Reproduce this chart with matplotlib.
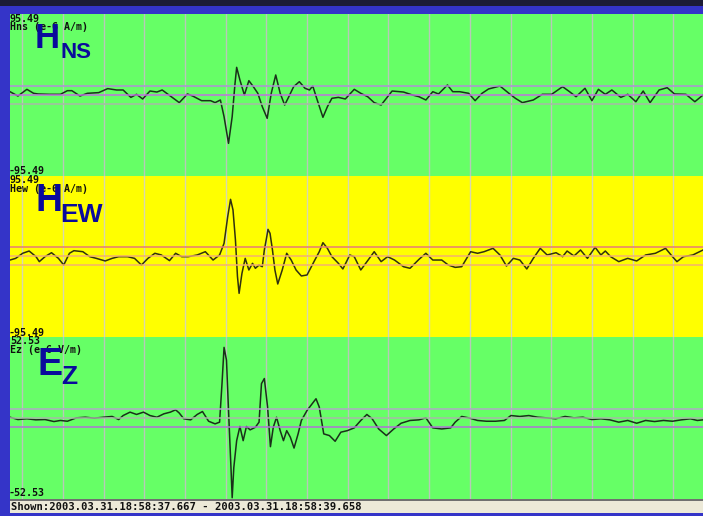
import matplotlib

matplotlib.use('Agg')

from matplotlib import pyplot as plt
import numpy as np
from matplotlib.patches import Rectangle

W, H = 703, 516

# time axis: ms after 2003.03.31 18:58:37.667 (window is cut at the right edge)
t_view = 1703
grid_start, grid_step = 30, 100

# Hns (e-6 A/m)
t_hns = [0, 19.5, 41.5, 58, 69, 97, 124, 141, 152, 172, 190, 218, 240, 262, 278, 297, 311, 326,
         344, 361, 374, 394, 416, 436, 449, 471, 493, 504, 517, 526, 537, 546, 553, 557, 565, 576,
         587, 598, 609, 620, 632, 642, 653, 664, 675, 686, 697, 711, 725, 736, 744, 755, 769, 780,
         791, 807, 824, 846, 862, 879, 895, 912, 923, 939, 967, 989, 1005, 1022, 1039, 1053, 1075,
         1088, 1105, 1127, 1143, 1160, 1176, 1204, 1226, 1242, 1259, 1286, 1308, 1331, 1358, 1375,
         1391, 1413, 1430, 1446, 1463, 1479, 1501, 1518, 1538, 1556, 1573, 1595, 1615, 1633, 1661,
         1683, 1703]
v_hns = [3.9, -1.2, 6.7, 2.0, 1.2, 0.8, 0.8, 5.1, 5.1, -1.2, 2.0, 2.8, 7.5, 5.9, 5.9, -2.8, 0.8, -4.7,
         4.7, 3.5, 5.9, -1.2, -9.0, 1.2, -1.2, -6.7, -6.7, -9.0, -5.9, -25.5, -57.0, -25.5, 13.8, 32.6,
         17.7, 0.0, 16.9, 9.8, 2.0, -13.8, -27.5, 2.0, 23.6, 2.0, -11.8, -1.2, 9.8, 15.7, 7.9, 5.9,
         10.6, -5.9, -26.3, -13.8, -3.9, -2.8, -4.7, 6.7, 2.0, -2.0, -9.0, -11.8, -5.1, 4.7, 3.5, 0.0,
         -2.0, -5.9, 3.9, 1.2, 11.8, 3.9, 3.9, 2.0, -6.7, 2.0, 7.1, 10.6, 2.0, -3.9, -9.0, -5.9, 0.8,
         0.8, 9.8, 3.9, -2.0, 7.9, -6.7, 6.7, 0.8, 5.9, -2.8, 0.8, -7.9, 4.7, -9.0, 5.9, 8.6, 1.2,
         0.8, -7.9, 0.0]

# Hew (e-6 A/m)
t_hew = [0, 14, 31, 47, 64, 72, 86, 102, 119, 132, 146, 157, 179, 196, 212, 234, 251, 267, 289, 306,
         323, 339, 356, 372, 392, 407, 422, 438, 460, 480, 499, 515, 526, 535, 542, 548, 554, 559,
         563, 570, 578, 587, 596, 603, 612, 620, 625, 631, 634, 639, 645, 651, 658, 669, 680, 691,
         703, 716, 730, 747, 760, 769, 780, 791, 807, 818, 835, 846, 862, 879, 895, 912, 928, 945,
         967, 983, 1005, 1022, 1039, 1061, 1077, 1094, 1110, 1132, 1149, 1165, 1187, 1204, 1220,
         1237, 1253, 1270, 1286, 1303, 1320, 1342, 1358, 1369, 1386, 1402, 1419, 1438, 1452, 1463,
         1476, 1496, 1518, 1540, 1562, 1586, 1611, 1628, 1639, 1655, 1678, 1703]
v_hew = [-4.2, -2.2, 3.8, 6.5, -0.2, -6.1, -0.2, 4.5, -2.2, -10.1, 3.8, 6.9, 5.7, -0.2, -2.2, -5.3,
         -2.2, -0.2, -0.2, -2.2, -10.1, -2.2, 3.8, 1.8, -4.9, 3.8, -0.2, -0.2, 1.8, 5.7, -4.2, 1.8,
         15.6, 47.3, 67.8, 55.2, 19.6, -23.9, -43.7, -20.0, -2.2, -16.0, -8.1, -14.0, -10.1, -12.1,
         7.7, 23.5, 32.2, 27.5, 7.7, -16.0, -32.6, -16.0, 3.8, -4.2, -16.0, -23.1, -21.9, -6.1, 5.7,
         16.4, 9.7, -0.2, -8.1, -14.8, 1.8, -0.2, -16.0, -4.9, 5.7, -6.1, -0.2, -4.2, -12.1, -14.0,
         -3.4, 3.8, -4.2, -4.2, -10.1, -12.9, -12.1, 5.7, 3.8, 5.7, 9.7, 1.8, -11.3, -2.2, -4.2,
         -14.8, -2.2, 9.7, 1.8, 4.5, -0.2, 6.5, 0.6, 7.7, -2.2, 10.9, 1.8, 6.5, -0.2, -6.1, -2.2,
         -5.3, 1.8, 3.8, 9.7, -0.2, -6.1, -0.2, 1.8, 7.7]

# Ez (e-6 V/m)
t_ez = [0, 19.5, 41.5, 63.5, 86, 108, 124, 141, 163, 185, 207, 229, 251, 267, 278, 295, 311, 328,
        344, 361, 378, 394, 407, 416, 427, 444, 460, 473, 488, 504, 515, 521, 526, 532, 537, 543,
        546, 550, 557, 565, 573, 581, 590, 603, 612, 618, 625, 633, 640, 647, 655, 664, 672, 680,
        689, 698, 708, 716, 730, 752, 760, 771, 785, 799, 813, 829, 846, 862, 877, 890, 906, 925,
        943, 961, 983, 1005, 1022, 1039, 1061, 1083, 1094, 1110, 1127, 1149, 1171, 1193, 1215,
        1231, 1253, 1275, 1297, 1319, 1341, 1364, 1386, 1408, 1430, 1452, 1474, 1496, 1518, 1540,
        1562, 1584, 1606, 1628, 1650, 1672, 1689, 1703]
v_ez = [0.5, -1.0, -0.5, -1.2, -1.0, -2.3, -1.6, -2.1, 0.1, 0.5, -0.1, 0.5, 1.0, -1.0, 1.6, 3.8,
        2.3, 3.8, 1.6, 0.5, 2.7, 3.8, 5.3, 3.2, -0.5, -1.2, 2.3, 4.2, -2.1, -3.8, -2.7, 22.3, 45.8,
        37.5, 4.9, -32.1, -51.7, -32.1, -14.7, -5.5, -14.7, -5.5, -7.7, -6.0, -2.7, 22.3, 25.6, 7.1,
        -18.6, -6.0, 0.5, -8.2, -14.7, -8.2, -12.5, -19.5, -10.3, -1.6, 4.9, 12.5, 7.1, -10.3, -11.4,
        -15.1, -9.2, -8.2, -6.4, -1.6, 2.3, -0.5, -7.1, -11.4, -7.1, -3.4, -1.6, -1.2, 0.1, -6.4,
        -7.1, -6.4, -2.7, 1.0, 0.1, -1.6, -2.1, -2.1, -1.6, 1.6, 1.0, 1.6, 0.5, 0.1, -0.5, 1.0, 0.1,
        0.5, -1.0, -0.5, -1.2, -2.7, -1.6, -3.4, -1.6, -2.3, -1.6, -2.1, -1.2, -0.5, -1.6, -1.2]

# full scale and reference levels per channel
scale_hns, scale_hew, scale_ez = 95.49, 95.49, 52.53
ref_hns = [11.0, 0.0, -10.3]
ref_hew = [10.9, 0.6, -10.4]
ref_ez = [6.0, -0.3, -6.0]

shown_text = 'Shown:2003.03.31.18:58:37.667 - 2003.03.31.18:58:39.658'


def fx(x):
    return x / W


def fy(y):
    return 1 - y / H


fig = plt.figure(figsize=(W / 100, H / 100), dpi=100)
fig.patch.set_facecolor('#3434c8')
# dark strip along the very top
fig.patches.append(Rectangle((0, fy(6)), 1, 6 / H, transform=fig.transFigure,
                             facecolor='#1c1c36', edgecolor='none'))

green = '#66ff66'
yellow = '#ffff00'
mono = dict(family='DejaVu Sans Mono', fontweight='bold', fontsize=7.2, color='#101010')
big = dict(family='Liberation Sans', fontweight='bold', color='#0a0a9c')

panels = [
    # t, v, scale, refs, ref colours, bg, top px, bottom px, trace colour, grid colour
    (t_hns, v_hns, scale_hns, ref_hns, ['#b08ed8', '#c070e0', '#a8b8a8'], green, 14, 176, '#1a301a', '#b8c8b8'),
    (t_hew, v_hew, scale_hew, ref_hew, ['#e87878', '#f4b070', '#f4b070'], yellow, 176, 337, '#303010', '#d8d8b0'),
    (t_ez, v_ez, scale_ez, ref_ez, ['#b0a8c8', '#a8b8a8', '#b070d8'], green, 337, 499, '#1a301a', '#b8c8b8'),
]

for t, v, s, refs, rcols, bg, ytop, ybot, tcol, gcol in panels:
    ax = fig.add_axes([fx(10), fy(ybot), fx(W - 10), (ybot - ytop) / H])
    ax.set_facecolor(bg)
    ax.set_xlim(0, t_view)
    ax.set_ylim(-s, s)
    for gx in np.arange(grid_start, t_view, grid_step):
        ax.axvline(gx, color=gcol, lw=1.0, zorder=1)
    ax.plot(t, v, color=tcol, lw=1.1, zorder=2, solid_joinstyle='round')
    for r, c in zip(refs, rcols):
        ax.axhline(r, color=c, lw=1.2, zorder=3, alpha=0.9)
    ax.set_xticks([])
    ax.set_yticks([])
    for sp in ax.spines.values():
        sp.set_visible(False)

# scale labels
fig.text(fx(10), fy(21.5), '95.49', va='baseline', **mono)
fig.text(fx(10), fy(30), 'Hns (e-6 A/m)', va='baseline', **mono)
fig.text(fx(9), fy(174.5), '-95.49', va='baseline', **mono)
fig.text(fx(10), fy(183), '95.49', va='baseline', **mono)
fig.text(fx(10), fy(191.5), 'Hew (e-6 A/m)', va='baseline', **mono)
fig.text(fx(9), fy(335.5), '-95.49', va='baseline', **mono)
fig.text(fx(10), fy(344.5), '52.53', va='baseline', **mono)
fig.text(fx(10), fy(353), 'Ez (e-6 V/m)', va='baseline', **mono)
fig.text(fx(9), fy(496), '-52.53', va='baseline', **mono)

# channel names
fig.text(fx(35), fy(48.5), 'H', va='baseline', fontsize=25, **big)
fig.text(fx(61), fy(58.5), 'NS', va='baseline', fontsize=16, **big)
fig.text(fx(35), fy(211), 'H', va='baseline', fontsize=27, **big)
fig.text(fx(60), fy(222), 'EW', va='baseline', fontsize=19, **big)
fig.text(fx(38), fy(375), 'E', va='baseline', fontsize=27, **big)
fig.text(fx(61), fy(384), 'Z', va='baseline', fontsize=19, **big)

# status bar
sb = fig.add_axes([fx(10), fy(513), fx(W - 10), 13 / H])
sb.set_facecolor('#ece9d8')
sb.set_xticks([])
sb.set_yticks([])
for sp in sb.spines.values():
    sp.set_visible(False)
fig.patches.append(Rectangle((fx(10), fy(500.5)), 1, 1.2 / H, transform=fig.transFigure,
                             facecolor='#707070', edgecolor='none', zorder=5))
fig.text(fx(11), fy(510.5), shown_text, va='baseline', family='DejaVu Sans Mono',
         fontweight='bold', fontsize=7.6, color='#101010')

plt.savefig('out.png', dpi=100)
plt.close()
